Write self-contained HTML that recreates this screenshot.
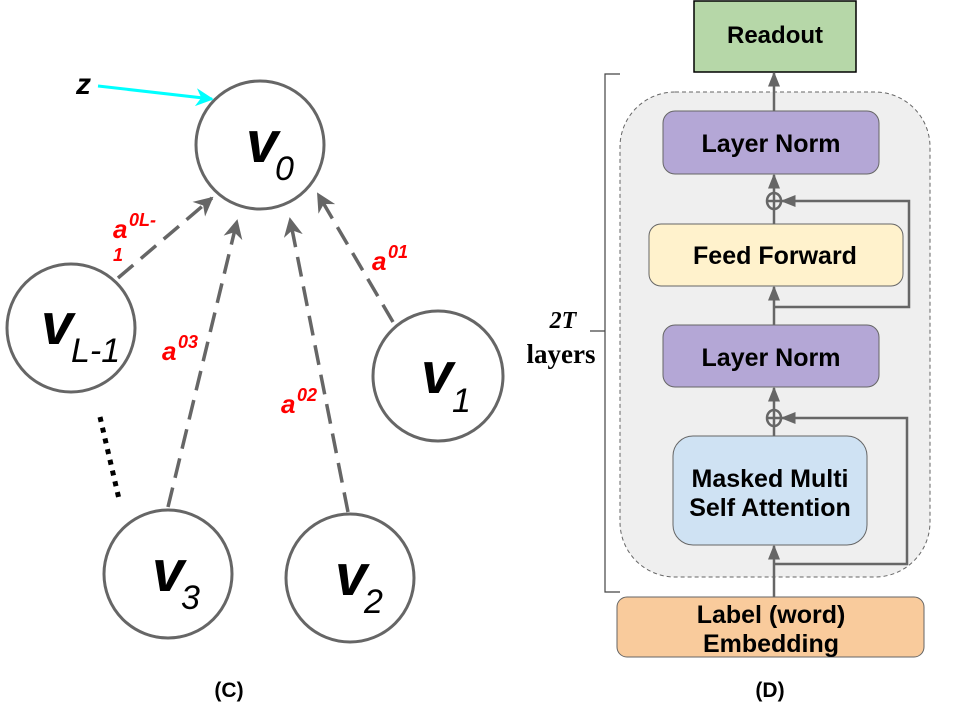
<!DOCTYPE html>
<html><head><meta charset="utf-8"><style>
html,body{margin:0;padding:0;background:#fff;}
svg{display:block;}
.b{font-family:"Liberation Sans",sans-serif;font-weight:bold;}
</style></head><body>
<svg width="960" height="720" viewBox="0 0 960 720" xmlns="http://www.w3.org/2000/svg">
<defs>
<marker id="ag" viewBox="0 0 10 10" refX="9" refY="5" markerWidth="5.5" markerHeight="5.5" orient="auto" markerUnits="strokeWidth"><path d="M0,0 L10,5 L0,10 L3,5 z" fill="#666"/></marker>
<marker id="ac" viewBox="0 0 10 10" refX="9" refY="5" markerWidth="6" markerHeight="6" orient="auto" markerUnits="strokeWidth"><path d="M0,0 L10,5 L0,10 L3,5 z" fill="#00ffff"/></marker>
<marker id="as" viewBox="0 0 10 10" refX="9" refY="5" markerWidth="6" markerHeight="6" orient="auto" markerUnits="strokeWidth"><path d="M0,1 L10,5 L0,9 z" fill="#666"/></marker>
</defs>
<!-- Left diagram -->
<g fill="#fff" stroke="#666" stroke-width="3">
<circle cx="260" cy="145" r="64"/>
<circle cx="71" cy="328" r="64"/>
<circle cx="438" cy="376" r="65"/>
<circle cx="168" cy="574" r="64"/>
<circle cx="350" cy="578" r="64"/>
</g>
<g stroke="#666" stroke-width="3.5" stroke-dasharray="20,10" fill="none" marker-end="url(#ag)">
<line x1="118" y1="278" x2="212" y2="198"/>
<line x1="168" y1="507" x2="237" y2="221"/>
<line x1="348" y1="512" x2="290" y2="219"/>
<line x1="393" y1="322" x2="318" y2="194"/>
</g>
<line x1="98" y1="86" x2="212" y2="99" stroke="#00ffff" stroke-width="3" marker-end="url(#ac)"/>
<line x1="100" y1="417" x2="119" y2="499" stroke="#000" stroke-width="5" stroke-dasharray="5,6"/>
<g class="b" font-style="italic" fill="#000">
<text x="76" y="94" font-size="30">z</text>
<text x="246" y="162" font-size="58">v</text><text x="275" y="180" font-size="34" font-weight="normal">0</text>
<text x="41" y="344" font-size="58">v</text><text x="71" y="362" font-size="34" font-weight="normal">L-1</text>
<text x="421" y="393" font-size="58">v</text><text x="452" y="412" font-size="34" font-weight="normal">1</text>
<text x="152" y="591" font-size="58">v</text><text x="181" y="609" font-size="34" font-weight="normal">3</text>
<text x="335" y="595" font-size="58">v</text><text x="364" y="613" font-size="34" font-weight="normal">2</text>
</g>
<g class="b" font-style="italic" fill="#ff0000">
<text x="113" y="238" font-size="26">a</text><text x="129" y="226" font-size="18">0L-</text>
<text x="113" y="261" font-size="18">1</text>
<text x="372" y="270" font-size="26">a</text><text x="388" y="258" font-size="18">01</text>
<text x="162" y="360" font-size="26">a</text><text x="178" y="348" font-size="18">03</text>
<text x="281" y="413" font-size="26">a</text><text x="297" y="401" font-size="18">02</text>
</g>
<text x="229" y="697" class="b" font-size="21" text-anchor="middle">(C)</text>
<!-- Right diagram -->
<rect x="620" y="92" width="310" height="485" rx="55" fill="#efefef" stroke="#666" stroke-width="1" stroke-dasharray="4,3"/>
<path d="M620,74 H605 V592 H620 M605,331 H590" fill="none" stroke="#444" stroke-width="1.2"/>
<text x="563" y="328" font-family="'Liberation Serif',serif" font-weight="bold" font-style="italic" font-size="24" text-anchor="middle">2T</text>
<text x="561" y="363" font-family="'Liberation Serif',serif" font-weight="bold" font-size="27" text-anchor="middle">layers</text>
<rect x="694" y="1" width="162" height="71" fill="#b6d7a8" stroke="#000" stroke-width="1.5"/>
<text x="775" y="43" class="b" font-size="24" text-anchor="middle">Readout</text>
<g stroke="#666" stroke-width="2.5" fill="none">
<line x1="774" y1="111" x2="774" y2="73" marker-end="url(#as)"/>
<line x1="774" y1="224" x2="774" y2="193"/>
<line x1="774" y1="193" x2="774" y2="175" marker-end="url(#as)"/>
<ellipse cx="774" cy="201" rx="7" ry="8"/><line x1="767" y1="201" x2="781" y2="201"/>
<polyline points="774,307 909,307 909,201 782,201" marker-end="url(#as)"/>
<line x1="774" y1="325" x2="774" y2="287" marker-end="url(#as)"/>
<line x1="774" y1="436" x2="774" y2="410"/>
<line x1="774" y1="410" x2="774" y2="388" marker-end="url(#as)"/>
<ellipse cx="774" cy="418" rx="7" ry="8"/><line x1="767" y1="418" x2="781" y2="418"/>
<polyline points="774,564 907,564 907,418 782,418" marker-end="url(#as)"/>
<line x1="774" y1="597" x2="774" y2="546" marker-end="url(#as)"/>
</g>
<rect x="663" y="111" width="216" height="63" rx="12" fill="#b4a7d6" stroke="#666" stroke-width="1"/>
<text x="771" y="152" class="b" font-size="25" text-anchor="middle">Layer Norm</text>
<rect x="649" y="224" width="254" height="62" rx="12" fill="#fff2cc" stroke="#666" stroke-width="1"/>
<text x="775" y="264" class="b" font-size="25" text-anchor="middle">Feed Forward</text>
<rect x="663" y="325" width="216" height="62" rx="12" fill="#b4a7d6" stroke="#666" stroke-width="1"/>
<text x="771" y="366" class="b" font-size="25" text-anchor="middle">Layer Norm</text>
<rect x="673" y="436" width="194" height="109" rx="20" fill="#cfe2f3" stroke="#666" stroke-width="1"/>
<text x="770" y="487" class="b" font-size="25" text-anchor="middle">Masked Multi</text>
<text x="770" y="516" class="b" font-size="25" text-anchor="middle">Self Attention</text>
<rect x="617" y="597" width="307" height="60" rx="10" fill="#f9cb9c" stroke="#666" stroke-width="1"/>
<text x="771" y="623" class="b" font-size="25" text-anchor="middle">Label (word)</text>
<text x="771" y="652" class="b" font-size="25" text-anchor="middle">Embedding</text>
<text x="770" y="697" class="b" font-size="21" text-anchor="middle">(D)</text>
</svg>
</body></html>
